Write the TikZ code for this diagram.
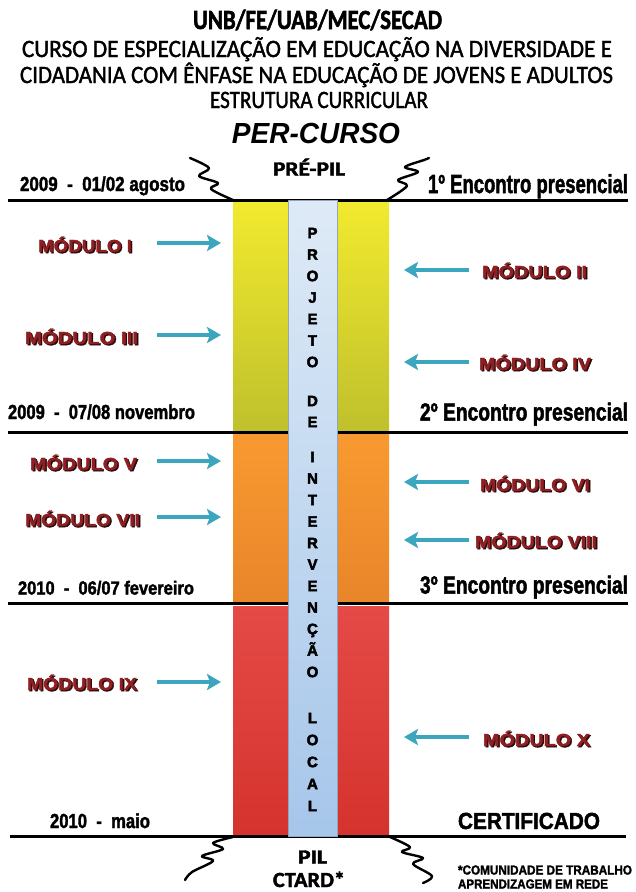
\documentclass[tikz,border=0pt]{standalone}
\usepackage{fontspec}
\setmainfont{Carlito}[FakeBold=1.6, BoldFeatures={FakeBold=2}]
\newfontfamily\lib{Liberation Sans}[BoldFeatures={FakeBold=2}]
\newfontfamily\libblack{Liberation Sans}[BoldFeatures={FakeBold=3}]
\usetikzlibrary{arrows.meta}
\newcommand{\fitt}[3]{\resizebox{#1pt}{#2pt}{\raisebox{0pt}[\fontcharht\font`X][0pt]{#3}}}
\newcommand{\capbox}[1]{\raisebox{0pt}[\fontcharht\font`X][0pt]{#1}}
\newcommand{\shad}[3]{\makebox[0pt][l]{\kern#2\raisebox{-#2}{\textcolor{#3}{#1}}}#1}
\definecolor{yelT}{HTML}{F2EA2E}
\definecolor{yelB}{HTML}{BFC02C}
\definecolor{oraT}{HTML}{F89A30}
\definecolor{oraB}{HTML}{E9852A}
\definecolor{redT}{HTML}{E54A46}
\definecolor{redB}{HTML}{D5332D}
\definecolor{colT}{HTML}{DEEAF6}
\definecolor{colB}{HTML}{A6C6EA}
\definecolor{colE}{HTML}{8FA6BE}
\definecolor{modred}{HTML}{8E1F22}
\definecolor{modsh}{HTML}{2A0A0A}
\definecolor{arrc}{HTML}{3CA6BE}
\begin{document}
\begin{tikzpicture}[x=1pt,y=-1pt,
  txt/.style={inner sep=0pt, outer sep=0pt, anchor=center},
  rule/.style={line width=3pt, black},
  zig/.style={line width=2.4pt, black, line cap=round, line join=round},
  modarrow/.style={draw=arrc, line width=4.5pt, -{Stealth[length=14pt,width=16pt,inset=3pt]}},
  modlbl/.style={txt, text=modred, font=\lib\bfseries},
  date/.style={txt, font=\lib\bfseries},
  colletter/.style={txt, font=\libblack\bfseries\fontsize{15}{15}\selectfont}
]
\useasboundingbox (0,0) rectangle (636,892);
\fill[white] (0,0) rectangle (636,892);

% title
\node[txt, font=\bfseries] (t1) at (317.5,20) {\fitt{249}{18}{UNB/FE/UAB/MEC/SECAD}};
\node[txt] (t2) at (317,49) {\fitt{590}{16}{CURSO DE ESPECIALIZAÇÃO EM EDUCAÇÃO NA DIVERSIDADE E}};
\node[txt] (t3) at (316.5,75) {\fitt{593}{16}{CIDADANIA COM ÊNFASE NA EDUCAÇÃO DE JOVENS E ADULTOS}};
\node[txt] (t4) at (319,100) {\fitt{218}{16}{ESTRUTURA CURRICULAR}};
\node[txt, font=\libblack\bfseries\itshape] (pc) at (316,133) {\fitt{168}{20}{PER-CURSO}};

% bars
\shade[top color=yelT, bottom color=yelB] (233,200) rectangle (288,432);
\shade[top color=yelT, bottom color=yelB] (337,200) rectangle (389,432);
\shade[top color=oraT, bottom color=oraB] (233,432) rectangle (288,603);
\shade[top color=oraT, bottom color=oraB] (337,432) rectangle (389,603);
\shade[top color=redT, bottom color=redB] (233,606) rectangle (288,836);
\shade[top color=redT, bottom color=redB] (337,606) rectangle (389,836);

% horizontal rules
\coordinate (r1a) at (8,200);   \coordinate (r1b) at (628,200);
\coordinate (r2a) at (8,432);   \coordinate (r2b) at (628,432);
\coordinate (r3a) at (8,603);   \coordinate (r3b) at (628,603);
\coordinate (r4a) at (10,836);  \coordinate (r4b) at (626,836);
\draw[rule] (r1a) -- (r1b);
\draw[rule] (r2a) -- (r2b);
\draw[rule] (r3a) -- (r3b);
\draw[rule] (r4a) -- (r4b);

% central column
\shade[top color=colT, bottom color=colB, draw=colE, line width=0.8pt] (288,200) rectangle (337,836);
\foreach \ch/\yy [count=\i] in {P/233,R/254.5,O/276,J/297.5,E/319,T/340.5,O/362,
  D/401,E/422,
  I/457,N/478.5,T/500,E/521.5,R/543,V/564.5,E/586,N/607.5,Ç/629,Ã/650.5,O/672,
  L/718,O/740,C/762,A/784,L/806}
  \node[colletter] (L\i) at (312.5,\yy) {\capbox{\ch}};

% zigzags
\draw[zig] plot[smooth, tension=0.55] coordinates {(190,158) (209,168) (199,176) (218,183) (211,189) (233,200)};
\draw[zig] plot[smooth, tension=0.55] coordinates {(387,200) (407,186) (398,180) (418,172) (405,167) (424,160) (429,158)};
\draw[zig] plot[smooth, tension=0.55] coordinates {(233,837) (213,843) (223,849) (202,856) (213,861) (192,872) (185,880)};
\draw[zig] plot[smooth, tension=0.55] coordinates {(390,837) (410,847) (402,852) (423,858) (413,864) (432,876) (423,883)};

% PRE-PIL / PIL
\node[txt] (prepil) at (309,169) {\bfseries\fitt{72}{13}{PRÉ-PIL}};
\node[txt] (pil) at (312.5,857) {\bfseries\fitt{29}{13}{PIL}};
\node[txt] (ctard) at (309,880) {\bfseries\fitt{72}{14}{CTARD*}};
\node[date] (n1) at (545,870) {\fitt{174}{9}{*COMUNIDADE DE TRABALHO}};
\node[date] (n2) at (533,884) {\fitt{150}{9}{APRENDIZAGEM EM REDE}};

% dates and meetings
\node[date] (d1) at (102.5,184) {\fitt{165}{14}{2009 \ - \ 01/02 agosto}};
\node[date] (e1) at (528,184) {\fitt{200}{18}{1º Encontro presencial}};
\node[date] (d2) at (101.5,412) {\fitt{187}{14}{2009 \ - \ 07/08 novembro}};
\node[date] (e2) at (524,412) {\fitt{208}{17}{2º Encontro presencial}};
\node[date] (d3) at (106,588) {\fitt{176}{13}{2010 \ - \ 06/07 fevereiro}};
\node[date] (e3) at (524,585) {\fitt{208}{17}{3º Encontro presencial}};
\node[date] (d4) at (100,821) {\fitt{100}{14}{2010 \ - \ maio}};
\node[date] (cert) at (529,821) {\fitt{142}{16}{CERTIFICADO}};

% modules
\foreach \nm/\cx/\cy/\w/\tx in {m1/85/246/94/MÓDULO I, m2/534.5/272/105/MÓDULO II,
  m3/81.5/338/113/MÓDULO III, m4/535/364/112/MÓDULO IV,
  m5/83.5/464/107/MÓDULO V, m6/535/485/110/MÓDULO VI,
  m7/82.5/520/115/MÓDULO VII, m8/536/542/122/MÓDULO VIII,
  m9/82/684/110/MÓDULO IX, m10/536.5/740/107/MÓDULO X}
{
  \node[modlbl] (\nm) at (\cx,\cy) {\fitt{\w}{12}{\shad{\tx}{0.7pt}{modsh}}};
}

% arrows
\foreach \nm/\yy in {a1/243, a3/335, a5/461, a7/517, a9/682}
{
  \coordinate (\nm s) at (157,\yy);
  \coordinate (\nm e) at (221,\yy);
  \draw[modarrow] (\nm s) -- (\nm e);
}
\foreach \nm/\yy in {a2/270, a4/362, a6/482, a8/540, a10/737}
{
  \coordinate (\nm s) at (469,\yy);
  \coordinate (\nm e) at (404,\yy);
  \draw[modarrow] (\nm s) -- (\nm e);
}
\end{tikzpicture}
\end{document}
